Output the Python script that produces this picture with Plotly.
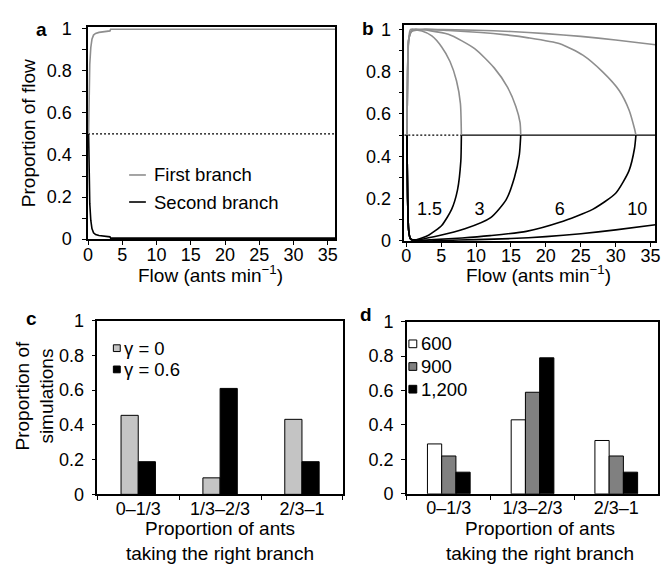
import plotly.graph_objects as go

FONT = "Liberation Sans, Arial, Helvetica, sans-serif"
W, H = 672, 569

# ---------- Panel a data ----------
a_first_x = [0.08, 0.15, 0.25, 0.4, 0.57, 0.8, 1.1, 1.6, 2.2, 3.2, 3.3, 36.1]
a_first_y = [0.5, 0.7, 0.83, 0.91, 0.95, 0.97, 0.978, 0.983, 0.986, 0.99, 0.998, 0.998]
a_second_x = [0.08, 0.15, 0.25, 0.4, 0.57, 0.8, 1.1, 1.6, 2.2, 3.2, 3.3, 36.1]
a_second_y = [0.5, 0.3, 0.17, 0.09, 0.05, 0.03, 0.022, 0.017, 0.014, 0.011, 0.005, 0.005]
a_sym_x = [0, 36.1]
a_sym_y = [0.5, 0.5]
a_series = ["First branch", "Second branch"]

# ---------- Panel b data (upper = first branch, lower = second branch) ----------
b_labels = ["1.5", "3", "6", "10"]
b_up_x = {
    "1.5": [0.1, 0.2, 0.35, 0.62, 2.26, 3.67, 5.08, 6.27, 7.2, 7.76, 7.9],
    "3": [0.1, 0.2, 0.35, 0.7, 1.33, 6.03, 9.8, 12.6, 14.5, 15.7, 16.3, 16.4],
    "6": [0.1, 0.2, 0.35, 0.8, 2.7, 6.0, 10.7, 14.0, 17.5, 22.0, 25.3, 28.1, 30.5, 31.9, 32.7, 32.9],
    "10": [0.1, 0.2, 0.35, 0.8, 5.0, 10.0, 15.0, 20.0, 25.0, 30.0, 35.7],
}
b_up_y = {
    "1.5": [0.5, 0.8, 0.95, 1.0, 0.992, 0.969, 0.917, 0.848, 0.757, 0.65, 0.5],
    "3": [0.5, 0.8, 0.95, 0.99, 1.0, 0.977, 0.909, 0.818, 0.727, 0.635, 0.56, 0.5],
    "6": [0.5, 0.8, 0.95, 0.99, 1.0, 0.995, 0.985, 0.975, 0.96, 0.932, 0.878, 0.80, 0.711, 0.62, 0.53, 0.5],
    "10": [0.5, 0.8, 0.95, 0.995, 0.999, 0.996, 0.99, 0.98, 0.967, 0.95, 0.927],
}
b_low_x = {
    "1.5": [7.9, 7.82, 7.34, 6.5, 5.08, 3.2, 1.33, 0.6, 0.35, 0.2, 0.1],
    "3": [16.4, 16.2, 15.5, 14.3, 12.1, 8.4, 4.6, 1.33, 0.6, 0.35, 0.2, 0.1],
    "6": [32.9, 32.7, 31.9, 30.0, 26.7, 22.0, 17.2, 12.0, 8.0, 4.0, 1.5, 0.6, 0.35, 0.2, 0.1],
    "10": [35.7, 30.0, 25.0, 20.0, 15.0, 10.0, 5.0, 1.0, 0.6, 0.35, 0.2, 0.1],
}
b_low_y = {
    "1.5": [0.5, 0.377, 0.24, 0.149, 0.073, 0.027, 0.005, 0.01, 0.05, 0.2, 0.5],
    "3": [0.5, 0.407, 0.30, 0.194, 0.11, 0.057, 0.024, 0.004, 0.01, 0.05, 0.2, 0.5],
    "6": [0.5, 0.438, 0.331, 0.225, 0.149, 0.088, 0.045, 0.025, 0.014, 0.006, 0.002, 0.01, 0.05, 0.2, 0.5],
    "10": [0.076, 0.052, 0.034, 0.02, 0.011, 0.006, 0.002, 0.0, 0.01, 0.05, 0.2, 0.5],
}
b_label_x = [3.35, 10.5, 22.0, 33.1]
b_label_y = [0.143, 0.143, 0.143, 0.143]
b_unstable_x = [-0.28, 7.9]
b_stable_x = [7.9, 35.7]
b_sym_y = [0.5, 0.5]

# ---------- Panel c / d data ----------
cats = ["0\u20131/3", "1/3\u20132/3", "2/3\u20131"]
c_series = ["\u03b3 = 0", "\u03b3 = 0.6"]
c_gamma0 = [0.455, 0.095, 0.432]
c_gamma06 = [0.188, 0.61, 0.188]
d_series = ["600", "900", "1,200"]
d_600 = [0.29, 0.43, 0.31]
d_900 = [0.22, 0.59, 0.22]
d_1200 = [0.126, 0.79, 0.126]

GRAY_LINE = "#8e8e8e"
C_COLORS = ["#c4c4c4", "black"]
D_COLORS = ["white", "#808080", "black"]

fig = go.Figure()

# Panel a
fig.add_trace(go.Scatter(x=a_sym_x, y=a_sym_y, mode="lines", xaxis="x", yaxis="y",
                         line=dict(color="black", width=1.2, dash="2px,2px"), showlegend=False))
fig.add_trace(go.Scatter(x=a_first_x, y=a_first_y, mode="lines", xaxis="x", yaxis="y",
                         name=a_series[0], line=dict(color=GRAY_LINE, width=1.6), showlegend=False))
fig.add_trace(go.Scatter(x=a_second_x, y=a_second_y, mode="lines", xaxis="x", yaxis="y",
                         name=a_series[1], line=dict(color="black", width=1.6), showlegend=False))

# Panel b
fig.add_trace(go.Scatter(x=b_unstable_x, y=b_sym_y, mode="lines", xaxis="x2", yaxis="y2",
                         line=dict(color="black", width=1.2, dash="2px,2px"), showlegend=False))
fig.add_trace(go.Scatter(x=b_stable_x, y=b_sym_y, mode="lines", xaxis="x2", yaxis="y2",
                         line=dict(color="black", width=1.2), showlegend=False))
for k in b_labels:
    fig.add_trace(go.Scatter(x=b_up_x[k], y=b_up_y[k], mode="lines", xaxis="x2", yaxis="y2",
                             line=dict(color=GRAY_LINE, width=1.6, shape="spline", smoothing=0.6),
                             showlegend=False))
    fig.add_trace(go.Scatter(x=b_low_x[k], y=b_low_y[k], mode="lines", xaxis="x2", yaxis="y2",
                             line=dict(color="black", width=1.6, shape="spline", smoothing=0.6),
                             showlegend=False))
fig.add_trace(go.Scatter(x=b_label_x, y=b_label_y, mode="text", text=b_labels, xaxis="x2", yaxis="y2",
                         textfont=dict(family=FONT, size=18, color="black"), showlegend=False))

# Panel c
for vals, name, col, off in zip([c_gamma0, c_gamma06], c_series, C_COLORS, [-0.21, 0.0]):
    fig.add_trace(go.Bar(x=cats, y=vals, name=name, xaxis="x3", yaxis="y3",
                         width=0.21, offset=off,
                         marker=dict(color=col, line=dict(color="black", width=1)), showlegend=False))

# Panel d
for vals, name, col, off in zip([d_600, d_900, d_1200], d_series, D_COLORS, [-0.255, -0.085, 0.085]):
    fig.add_trace(go.Bar(x=cats, y=vals, name=name, xaxis="x4", yaxis="y4",
                         width=0.17, offset=off,
                         marker=dict(color=col, line=dict(color="black", width=1)), showlegend=False))

tickfont = dict(family=FONT, size=18, color="black")
frame = dict(showline=True, mirror=True, linecolor="black", linewidth=1.5,
             showgrid=False, zeroline=False, tickfont=tickfont, ticks="outside",
             ticklen=4, tickwidth=1.2, tickcolor="black")
minor = dict(dtick=0.1, ticks="outside", ticklen=4, tickwidth=1.2, tickcolor="black")


def px_x(p):
    return p / W


def px_y(p):
    return 1 - p / H


fig.update_layout(
    width=W, height=H,
    margin=dict(l=0, r=0, t=0, b=0),
    paper_bgcolor="white", plot_bgcolor="white",
    font=dict(family=FONT, size=18, color="black"),
    barmode="overlay",
    showlegend=False,
    xaxis=dict(domain=[px_x(84.3), px_x(335.3)], range=[0, 36.1], tick0=0, dtick=5,
               anchor="y", ticklabelstandoff=-6, **frame),
    yaxis=dict(domain=[px_y(237.5), px_y(17.3)], range=[0, 1.01], tick0=0, dtick=0.2,
               anchor="x", ticklabelstandoff=7, minor=minor, **frame),
    xaxis2=dict(domain=[px_x(405.3), px_x(660.3)], range=[-0.28, 35.7], tick0=0, dtick=5,
                anchor="y2", ticklabelstandoff=-6, **frame),
    yaxis2=dict(domain=[px_y(239.3), px_y(15.7)], range=[0, 1.02], tick0=0, dtick=0.2,
                anchor="x2", ticklabelstandoff=4, minor=minor, **frame),
    xaxis3=dict(domain=[px_x(93.7), px_x(343)], range=[-0.5, 2.5], type="category",
                anchor="y3", tickson="boundaries", ticklabelstandoff=-3, **frame),
    yaxis3=dict(domain=[px_y(502), px_y(322)], range=[0, 1], tick0=0, dtick=0.2,
                anchor="x3", ticklabelstandoff=4, **frame),
    xaxis4=dict(domain=[px_x(408), px_x(663)], range=[-0.5, 2.5], type="category",
                anchor="y4", tickson="boundaries", ticklabelstandoff=-3, **frame),
    yaxis4=dict(domain=[px_y(501.5), px_y(323)], range=[0, 1], tick0=0, dtick=0.2,
                anchor="x4", ticklabelstandoff=4, **frame),
)

ann = []
shapes = []


def label(text, x, y, size=18, bold=False, angle=0, xanchor="center"):
    ann.append(dict(text=("<b>%s</b>" % text) if bold else text, x=px_x(x), y=px_y(y),
                    xref="paper", yref="paper", showarrow=False, textangle=angle,
                    xanchor=xanchor, yanchor="middle",
                    font=dict(family=FONT, size=size, color="black")))


# panel letters
label("a", 37, 20, 19, True)
label("b", 368, 19, 19, True)
label("c", 27, 320, 19, True)
label("d", 366, 316, 19, True)

# axis titles
label("Proportion of flow", 24, 128, 19, angle=-90)
label("Flow (ants min<sup>\u22121</sup>)", 209, 274, 19)
label("Flow (ants min<sup>\u22121</sup>)", 542, 274, 19)
label("Proportion of<br>simulations", 30, 400, 19, angle=-90)
label("Proportion of ants<br>taking the right branch", 218, 550, 19)
label("Proportion of ants<br>taking the right branch", 543, 550, 19)

# legend panel a (line keys)
for name, col, yy in zip(a_series, [GRAY_LINE, "black"], [171, 199]):
    shapes.append(dict(type="line", xref="paper", yref="paper",
                       x0=px_x(126), x1=px_x(143), y0=px_y(yy), y1=px_y(yy),
                       line=dict(color=col, width=1.6)))
    label(name, 149, yy, 18.5, xanchor="left")

# legend panel c (box keys)
for name, col, yy in zip(c_series, C_COLORS, [350.5, 372.5]):
    shapes.append(dict(type="rect", xref="paper", yref="paper",
                       x0=px_x(110), x1=px_x(117), y0=px_y(yy - 3.5), y1=px_y(yy + 3.5),
                       fillcolor=col, line=dict(color="black", width=1)))
    label(name, 119, yy, 18.5, xanchor="left")

# legend panel d (box keys)
for name, col, yy in zip(d_series, D_COLORS, [346, 369.5, 393]):
    shapes.append(dict(type="rect", xref="paper", yref="paper",
                       x0=px_x(410), x1=px_x(418), y0=px_y(yy - 4), y1=px_y(yy + 4),
                       fillcolor=col, line=dict(color="black", width=1)))
    label(name, 420, yy, 18.5, xanchor="left")

fig.update_layout(annotations=ann, shapes=shapes)

fig.write_html("out.html", config={"displayModeBar": False},
               post_script="document.body.style.margin='0';document.body.style.overflow='hidden';")
